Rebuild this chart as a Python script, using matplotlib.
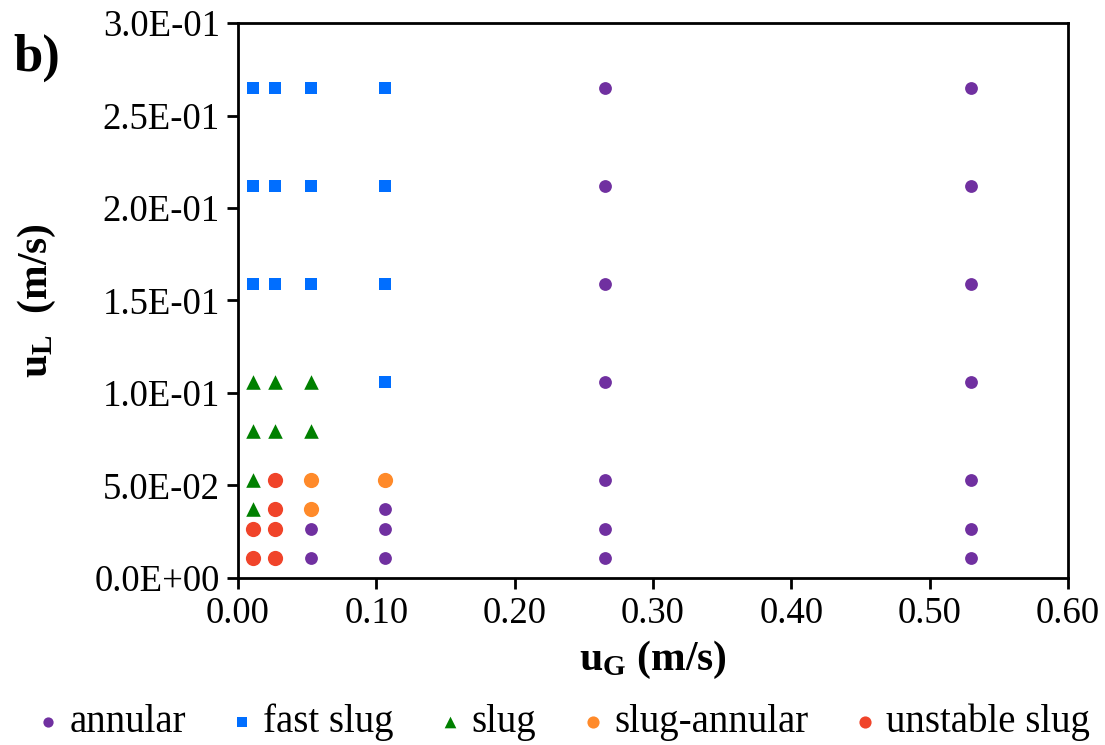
import numpy as np
import matplotlib
matplotlib.use("Agg")
import matplotlib.pyplot as plt
from matplotlib.ticker import FuncFormatter, MultipleLocator

plt.rcParams['font.family'] = ['Liberation Serif', 'DejaVu Serif']
plt.rcParams['mathtext.fontset'] = 'custom'
plt.rcParams['mathtext.rm'] = 'Liberation Serif'
plt.rcParams['mathtext.bf'] = 'Liberation Serif:bold'

# superficial velocities (m/s)
annular_uG = [0.053, 0.053, 0.106, 0.106, 0.106,
              0.265, 0.265, 0.265, 0.265, 0.265, 0.265, 0.265,
              0.53, 0.53, 0.53, 0.53, 0.53, 0.53, 0.53]
annular_uL = [0.0106, 0.0265, 0.0106, 0.0265, 0.0371,
              0.0106, 0.0265, 0.053, 0.106, 0.159, 0.212, 0.265,
              0.0106, 0.0265, 0.053, 0.106, 0.159, 0.212, 0.265]

fast_uG = [0.0106, 0.0265, 0.053, 0.106,
           0.0106, 0.0265, 0.053, 0.106,
           0.0106, 0.0265, 0.053, 0.106, 0.106]
fast_uL = [0.265, 0.265, 0.265, 0.265,
           0.212, 0.212, 0.212, 0.212,
           0.159, 0.159, 0.159, 0.159, 0.106]

slug_uG = [0.0106, 0.0265, 0.053, 0.0106, 0.0265, 0.053, 0.0106, 0.0106]
slug_uL = [0.106, 0.106, 0.106, 0.0796, 0.0796, 0.0796, 0.053, 0.0371]

sa_uG = [0.053, 0.053, 0.106]
sa_uL = [0.053, 0.0371, 0.053]

uns_uG = [0.0265, 0.0265, 0.0106, 0.0265, 0.0106, 0.0265]
uns_uL = [0.053, 0.0371, 0.0265, 0.0265, 0.0106, 0.0106]

fig = plt.figure(figsize=(11.05, 7.45), dpi=100)
ax = fig.add_axes([0.2154, 0.2242, 0.7511, 0.7449])

ax.scatter(annular_uG, annular_uL, s=85, marker='o', color='#7030A0', label='annular', zorder=3, linewidths=0)
ax.scatter(fast_uG, fast_uL, s=70, marker='s', color='#006EFF', label='fast slug', zorder=3, linewidths=0)
ax.scatter(slug_uG, slug_uL, s=110, marker='^', color='#008000', label='slug', zorder=3, linewidths=0)
ax.scatter(sa_uG, sa_uL, s=120, marker='o', color='#FF8A2A', label='slug-annular', zorder=3, linewidths=0)
ax.scatter(uns_uG, uns_uL, s=120, marker='o', color='#F0442A', label='unstable slug', zorder=3, linewidths=0)

ax.set_xlim(0, 0.6)
ax.set_ylim(0, 0.3)
ax.xaxis.set_major_locator(MultipleLocator(0.1))
ax.yaxis.set_major_locator(MultipleLocator(0.05))
ax.xaxis.set_major_formatter(FuncFormatter(lambda v, p: f"{v:.2f}"))
ax.yaxis.set_major_formatter(FuncFormatter(lambda v, p: f"{v:.1E}"))
ax.tick_params(direction='out', length=8, width=2, labelsize=26.5, pad=5)
for sp in ax.spines.values():
    sp.set_linewidth(2)

ax.set_xlabel(r'$\mathbf{u_G}$ (m/s)', fontsize=30, fontweight='bold', labelpad=6)
ax.set_ylabel(r'$\mathbf{u_L}$  (m/s)', fontsize=30, fontweight='bold', labelpad=26)

fig.text(0.012, 0.905, 'b)', fontsize=38, fontweight='bold')

leg = fig.legend(loc='center', bbox_to_anchor=(0.506, 0.03), ncol=5, frameon=False,
                 fontsize=28, markerscale=0.8, handletextpad=0.05, columnspacing=0.95,
                 handlelength=1.0, borderpad=0)

fig.savefig('out.png', dpi=100)
